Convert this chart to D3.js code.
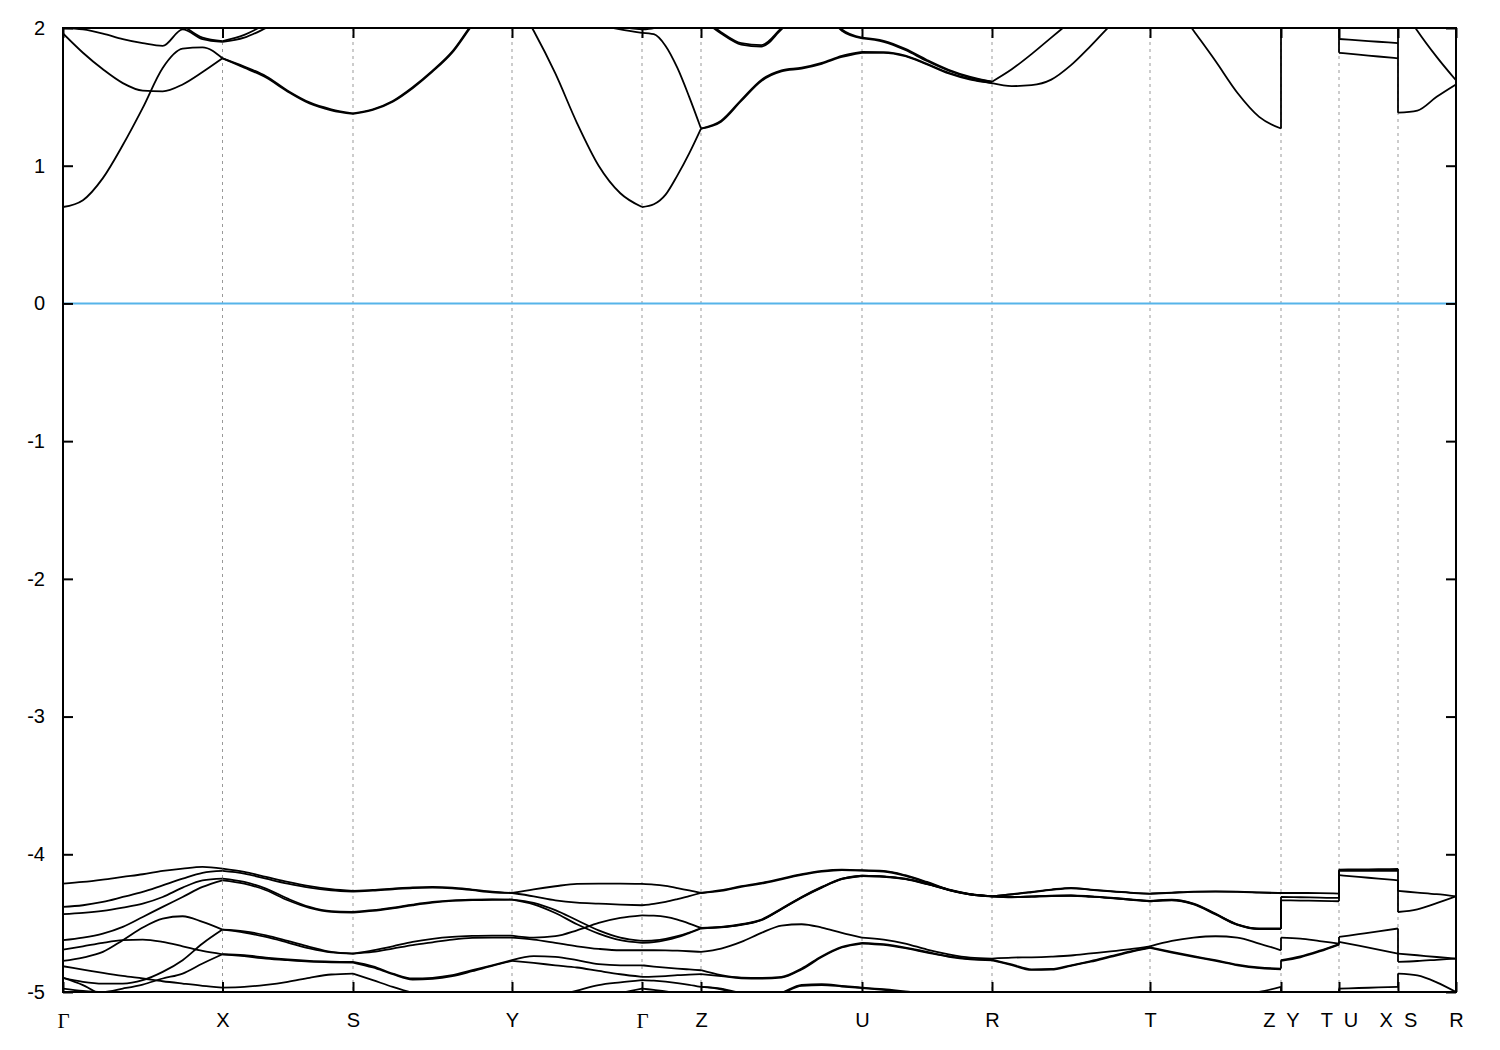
<!DOCTYPE html>
<html>
<head>
<meta charset="utf-8">
<script src="https://cdn.jsdelivr.net/npm/d3@7"></script>
<style>
  html, body { margin: 0; padding: 0; background: #fff; }
  text { white-space: pre; }
</style>
</head>
<body>
<svg id="chart" width="1500" height="1050"></svg>
<script>
// ---- high-symmetry path ----
const kLabels = ["Γ","X","S","Y","Γ","Z","U","R","T","Z  Y","T  U","X  S","R"];
const kTicks  = [0, 1.595, 2.90, 4.49, 5.79, 6.38, 7.99, 9.29, 10.87, 12.18, 12.76, 13.35, 13.93];
const yTicks  = [-5, -4, -3, -2, -1, 0, 1, 2];
const fermiLevel = 0;

// ---- band energies (eV), evenly sampled along each path segment ----
const bandsGX = [
  [0.70, 0.75, 0.91, 1.15, 1.42, 1.71, 1.85, 1.86, 1.78],
  [1.96, 1.82, 1.70, 1.60, 1.545, 1.54, 1.59, 1.68, 1.78],
  [2.00, 1.99, 1.96, 1.92, 1.89, 1.87, 1.99, 1.92, 1.90],
  [2.40, 2.35, 2.30, 2.25, 2.20, 2.12, 2.02, 1.93, 1.905],
  [-4.213, -4.201, -4.184, -4.164, -4.145, -4.121, -4.104, -4.092, -4.104],
  [-4.382, -4.370, -4.346, -4.310, -4.273, -4.225, -4.177, -4.135, -4.121],
  [-4.435, -4.426, -4.411, -4.387, -4.358, -4.310, -4.242, -4.189, -4.177],
  [-4.624, -4.605, -4.576, -4.527, -4.455, -4.382, -4.310, -4.237, -4.189],
  [-4.692, -4.668, -4.643, -4.624, -4.619, -4.636, -4.668, -4.702, -4.726],
  [-4.774, -4.750, -4.709, -4.624, -4.532, -4.467, -4.450, -4.491, -4.547],
  [-4.813, -4.837, -4.861, -4.883, -4.902, -4.922, -4.939, -4.955, -4.968],
  [-4.897, -4.926, -4.939, -4.939, -4.914, -4.854, -4.769, -4.648, -4.547],
  [-4.975, -4.992, -4.999, -4.975, -4.946, -4.902, -4.866, -4.793, -4.726],
  [-4.897, -4.950, -5.030, -5.100, -5.150, -5.200, -5.200, -5.200, -5.200]
];
const bandsXS = [
  [1.78, 1.72, 1.65, 1.545, 1.46, 1.41, 1.38],
  [1.78, 1.712, 1.64, 1.538, 1.452, 1.402, 1.376],
  [1.90, 1.93, 2.00, 2.08, 2.15, 2.20, 2.25],
  [1.905, 1.95, 2.03, 2.12, 2.20, 2.25, 2.30],
  [-4.104, -4.128, -4.164, -4.201, -4.232, -4.254, -4.266],
  [-4.121, -4.140, -4.177, -4.213, -4.242, -4.261, -4.271],
  [-4.177, -4.201, -4.249, -4.322, -4.382, -4.413, -4.418],
  [-4.189, -4.213, -4.261, -4.334, -4.389, -4.418, -4.423],
  [-4.547, -4.559, -4.588, -4.629, -4.672, -4.709, -4.721],
  [-4.547, -4.568, -4.600, -4.641, -4.684, -4.713, -4.721],
  [-4.726, -4.733, -4.750, -4.764, -4.774, -4.779, -4.781],
  [-4.726, -4.740, -4.757, -4.769, -4.779, -4.784, -4.786],
  [-4.968, -4.963, -4.948, -4.926, -4.897, -4.873, -4.866]
];
const bandsSY = [
  [1.38, 1.41, 1.47, 1.57, 1.69, 1.83, 2.03, 2.20, 2.35],
  [1.376, 1.405, 1.465, 1.563, 1.683, 1.823, 2.02, 2.19, 2.34],
  [-4.266, -4.259, -4.249, -4.240, -4.237, -4.242, -4.256, -4.271, -4.281],
  [-4.271, -4.264, -4.254, -4.245, -4.242, -4.247, -4.261, -4.276, -4.281],
  [-4.418, -4.406, -4.387, -4.365, -4.346, -4.334, -4.329, -4.327, -4.329],
  [-4.423, -4.411, -4.392, -4.370, -4.351, -4.339, -4.333, -4.330, -4.329],
  [-4.721, -4.697, -4.668, -4.636, -4.614, -4.600, -4.593, -4.590, -4.590],
  [-4.721, -4.709, -4.685, -4.660, -4.639, -4.619, -4.607, -4.605, -4.605],
  [-4.781, -4.813, -4.866, -4.902, -4.897, -4.878, -4.842, -4.806, -4.769],
  [-4.786, -4.822, -4.871, -4.910, -4.905, -4.885, -4.849, -4.810, -4.774],
  [-4.866, -4.914, -4.963, -5.006, -5.040, -5.060, -5.070, -5.070, -5.060]
];
const bandsYG = [
  [2.25, 1.98, 1.67, 1.31, 1.00, 0.80, 0.70],
  [2.30, 2.20, 2.12, 2.06, 2.02, 1.99, 1.965],
  [2.40, 2.30, 2.20, 2.12, 2.05, 2.01, 1.99],
  [-4.281, -4.254, -4.232, -4.215, -4.213, -4.213, -4.215],
  [-4.281, -4.305, -4.334, -4.351, -4.358, -4.365, -4.370],
  [-4.329, -4.353, -4.406, -4.479, -4.552, -4.605, -4.629],
  [-4.329, -4.363, -4.426, -4.508, -4.576, -4.624, -4.643],
  [-4.590, -4.605, -4.595, -4.552, -4.498, -4.462, -4.443],
  [-4.605, -4.619, -4.643, -4.668, -4.687, -4.697, -4.697],
  [-4.769, -4.740, -4.745, -4.769, -4.798, -4.806, -4.806],
  [-4.774, -4.789, -4.806, -4.822, -4.847, -4.871, -4.890],
  [-5.100, -5.070, -5.030, -4.990, -4.950, -4.930, -4.914],
  [-5.200, -5.200, -5.150, -5.100, -5.060, -5.010, -4.975]
];
const bandsGZ = [
  [0.70, 0.72, 0.79, 0.93, 1.09, 1.27],
  [1.965, 1.955, 1.87, 1.71, 1.50, 1.27],
  [1.99, 2.00, 2.04, 2.10, 2.20, 2.30],
  [-4.215, -4.220, -4.230, -4.245, -4.262, -4.281],
  [-4.370, -4.360, -4.345, -4.325, -4.303, -4.281],
  [-4.629, -4.626, -4.615, -4.595, -4.568, -4.535],
  [-4.643, -4.638, -4.624, -4.602, -4.572, -4.539],
  [-4.443, -4.446, -4.455, -4.475, -4.503, -4.535],
  [-4.697, -4.697, -4.698, -4.700, -4.704, -4.709],
  [-4.806, -4.815, -4.823, -4.830, -4.836, -4.842],
  [-4.890, -4.888, -4.884, -4.878, -4.874, -4.870],
  [-4.914, -4.918, -4.925, -4.935, -4.948, -4.963],
  [-4.975, -4.985, -4.995, -5.010, -5.030, -5.050]
];
const bandsZU = [
  [1.27, 1.32, 1.47, 1.615, 1.685, 1.705, 1.74, 1.79, 1.82],
  [1.27, 1.327, 1.478, 1.623, 1.692, 1.712, 1.747, 1.797, 1.826],
  [2.07, 1.96, 1.88, 1.865, 1.99, 2.12, 2.20, 2.25, 2.30],
  [2.08, 1.97, 1.89, 1.875, 2.00, 2.13, 2.21, 2.26, 2.31],
  [2.60, 2.50, 2.40, 2.35, 2.30, 2.25, 2.15, 1.98, 1.925],
  [2.60, 2.50, 2.40, 2.35, 2.30, 2.26, 2.16, 1.99, 1.93],
  [-4.281, -4.261, -4.232, -4.208, -4.177, -4.145, -4.121, -4.111, -4.116],
  [-4.281, -4.266, -4.237, -4.213, -4.182, -4.150, -4.126, -4.114, -4.118],
  [-4.535, -4.527, -4.508, -4.474, -4.394, -4.310, -4.237, -4.177, -4.155],
  [-4.539, -4.531, -4.513, -4.479, -4.399, -4.315, -4.242, -4.181, -4.158],
  [-4.535, -4.529, -4.511, -4.477, -4.397, -4.312, -4.240, -4.179, -4.156],
  [-4.709, -4.685, -4.636, -4.571, -4.518, -4.508, -4.532, -4.571, -4.605],
  [-4.842, -4.878, -4.895, -4.897, -4.890, -4.830, -4.740, -4.672, -4.643],
  [-4.870, -4.885, -4.900, -4.902, -4.895, -4.836, -4.746, -4.677, -4.648],
  [-4.963, -4.975, -5.011, -5.047, -5.006, -4.948, -4.943, -4.955, -4.968],
  [-4.963, -4.980, -5.020, -5.050, -5.010, -4.955, -4.950, -4.960, -4.972]
];
const bandsUR = [
  [1.82, 1.82, 1.795, 1.735, 1.67, 1.625, 1.60],
  [1.826, 1.825, 1.80, 1.74, 1.675, 1.63, 1.60],
  [1.925, 1.90, 1.84, 1.76, 1.69, 1.64, 1.61],
  [1.93, 1.907, 1.848, 1.768, 1.697, 1.645, 1.61],
  [-4.116, -4.121, -4.152, -4.201, -4.256, -4.290, -4.305],
  [-4.118, -4.125, -4.157, -4.206, -4.260, -4.292, -4.305],
  [-4.155, -4.160, -4.177, -4.213, -4.256, -4.290, -4.305],
  [-4.158, -4.163, -4.181, -4.217, -4.259, -4.292, -4.305],
  [-4.156, -4.162, -4.179, -4.215, -4.258, -4.291, -4.305],
  [-4.605, -4.619, -4.648, -4.692, -4.726, -4.750, -4.757],
  [-4.643, -4.653, -4.677, -4.709, -4.740, -4.760, -4.765],
  [-4.648, -4.658, -4.682, -4.714, -4.744, -4.763, -4.770],
  [-4.968, -4.980, -4.995, -5.010, -5.020, -5.010, -5.000],
  [-4.972, -4.985, -5.000, -5.015, -5.025, -5.015, -5.005]
];
const bandsRT = [
  [1.61, 1.70, 1.81, 1.93, 2.05, 2.17, 2.30, 2.40, 2.50],
  [1.60, 1.578, 1.585, 1.625, 1.73, 1.87, 2.02, 2.15, 2.30],
  [-4.305, -4.290, -4.273, -4.256, -4.244, -4.256, -4.268, -4.278, -4.285],
  [-4.305, -4.292, -4.276, -4.259, -4.247, -4.258, -4.270, -4.280, -4.287],
  [-4.305, -4.310, -4.305, -4.300, -4.298, -4.305, -4.315, -4.327, -4.339],
  [-4.305, -4.312, -4.308, -4.303, -4.301, -4.308, -4.318, -4.330, -4.342],
  [-4.305, -4.311, -4.307, -4.302, -4.300, -4.307, -4.317, -4.329, -4.341],
  [-4.757, -4.750, -4.748, -4.743, -4.735, -4.720, -4.705, -4.688, -4.668],
  [-4.765, -4.800, -4.835, -4.833, -4.806, -4.775, -4.740, -4.705, -4.675],
  [-4.770, -4.805, -4.840, -4.838, -4.810, -4.780, -4.745, -4.710, -4.680],
  [-5.000, -5.000, -5.010, -5.030, -5.040, -5.050, -5.050, -5.050, -5.050]
];
const bandsTZ = [
  [2.40, 2.20, 1.98, 1.76, 1.53, 1.355, 1.27],
  [-4.285, -4.278, -4.271, -4.269, -4.271, -4.276, -4.281],
  [-4.287, -4.280, -4.273, -4.271, -4.273, -4.278, -4.283],
  [-4.339, -4.329, -4.358, -4.431, -4.508, -4.539, -4.539],
  [-4.342, -4.334, -4.364, -4.437, -4.513, -4.543, -4.543],
  [-4.341, -4.332, -4.361, -4.434, -4.511, -4.541, -4.541],
  [-4.668, -4.629, -4.605, -4.595, -4.605, -4.648, -4.697],
  [-4.675, -4.709, -4.740, -4.769, -4.801, -4.822, -4.830],
  [-4.680, -4.714, -4.745, -4.774, -4.806, -4.827, -4.835],
  [-5.050, -5.050, -5.050, -5.040, -5.020, -5.000, -4.963]
];
const bandsYT = [
  [-4.281, -4.281, -4.282, -4.285],
  [-4.310, -4.312, -4.315, -4.317],
  [-4.334, -4.336, -4.338, -4.341],
  [-4.605, -4.612, -4.630, -4.648],
  [-4.769, -4.742, -4.700, -4.652],
  [-4.774, -4.748, -4.706, -4.656]
];
const bandsUX = [
  [1.92, 1.91, 1.90, 1.89],
  [1.82, 1.807, 1.793, 1.78],
  [-4.111, -4.110, -4.108, -4.107],
  [-4.120, -4.120, -4.120, -4.120],
  [-4.152, -4.164, -4.177, -4.189],
  [-4.600, -4.580, -4.560, -4.539],
  [-4.636, -4.664, -4.693, -4.721],
  [-4.975, -4.971, -4.967, -4.963]
];
const bandsSR = [
  [1.385, 1.40, 1.50, 1.59],
  [2.20, 1.98, 1.79, 1.62],
  [-4.266, -4.278, -4.290, -4.305],
  [-4.419, -4.400, -4.355, -4.305],
  [-4.721, -4.733, -4.746, -4.757],
  [-4.781, -4.775, -4.766, -4.757],
  [-4.866, -4.880, -4.930, -5.000]
];
// vertical connectors at path discontinuities: [tick index, E from, E to]
const jumps = [
  [9, 1.27, 2.2], [9, -4.539, -4.310], [9, -4.543, -4.334], [9, -4.697, -4.605],
  [9, -4.830, -4.769], [9, -4.963, -5.1],
  [10, 2.2, 1.82], [10, -4.285, -4.111], [10, -4.317, -4.120], [10, -4.341, -4.152],
  [10, -4.648, -4.600], [10, -4.656, -4.636], [10, -5.1, -4.975],
  [11, 2.2, 1.385], [11, -4.107, -4.266], [11, -4.189, -4.419], [11, -4.539, -4.781],
  [11, -4.963, -4.866]
];

const segments = [bandsGX, bandsXS, bandsSY, bandsYG, bandsGZ, bandsZU,
                  bandsUR, bandsRT, bandsTZ, bandsYT, bandsUX, bandsSR];

// ---- drawing ----
const W = 1500, H = 1050;
const m = {left: 63, right: 44, top: 28, bottom: 58};
const svg = d3.select("#chart");
svg.append("rect").attr("width", W).attr("height", H).attr("fill", "#fff");

const x = d3.scaleLinear().domain([kTicks[0], kTicks[kTicks.length - 1]]).range([m.left, W - m.right]);
const y = d3.scaleLinear().domain([-5, 2]).range([H - m.bottom, m.top]);

svg.append("defs").append("clipPath").attr("id", "plotclip")
  .append("rect").attr("x", x.range()[0]).attr("y", y.range()[1])
  .attr("width", x.range()[1] - x.range()[0]).attr("height", y.range()[0] - y.range()[1]);

// dashed vertical lines at interior high-symmetry points
svg.append("g").selectAll("line").data(kTicks.slice(1, -1)).join("line")
  .attr("x1", d => x(d)).attr("x2", d => x(d))
  .attr("y1", y.range()[1]).attr("y2", y.range()[0])
  .attr("stroke", "#999").attr("stroke-width", 1).attr("stroke-dasharray", "3,4");

// Fermi level
svg.append("line")
  .attr("x1", x.range()[0]).attr("x2", x.range()[1])
  .attr("y1", y(fermiLevel)).attr("y2", y(fermiLevel))
  .attr("stroke", "#56b4e9").attr("stroke-width", 2);

const gBands = svg.append("g").attr("clip-path", "url(#plotclip)");
const line = d3.line().x(d => x(d[0])).y(d => y(d[1])).curve(d3.curveMonotoneX);

segments.forEach((seg, i) => {
  const k0 = kTicks[i], k1 = kTicks[i + 1];
  seg.forEach(vals => {
    const n = vals.length;
    const pts = vals.map((e, j) => [k0 + (k1 - k0) * j / (n - 1), e]);
    gBands.append("path").attr("d", line(pts))
      .attr("fill", "none").attr("stroke", "#000").attr("stroke-width", 1.8)
      .attr("stroke-linejoin", "round");
  });
});
gBands.selectAll("line.jump").data(jumps).join("line").attr("class", "jump")
  .attr("x1", d => x(kTicks[d[0]])).attr("x2", d => x(kTicks[d[0]]))
  .attr("y1", d => y(d[1])).attr("y2", d => y(d[2]))
  .attr("stroke", "#000").attr("stroke-width", 1.8);

// frame
svg.append("rect")
  .attr("x", x.range()[0]).attr("y", y.range()[1])
  .attr("width", x.range()[1] - x.range()[0]).attr("height", y.range()[0] - y.range()[1])
  .attr("fill", "none").attr("stroke", "#000").attr("stroke-width", 2);

// y ticks (inward, both sides)
const tickLen = 10;
const yAxisL = d3.axisLeft(y).tickValues(yTicks).tickSizeInner(-tickLen).tickSizeOuter(0).tickPadding(18)
  .tickFormat(d => String(d));
const gl = svg.append("g").attr("transform", `translate(${x.range()[0]},0)`).call(yAxisL);
const yAxisR = d3.axisRight(y).tickValues(yTicks).tickSizeInner(-tickLen).tickSizeOuter(0).tickFormat("");
const gr = svg.append("g").attr("transform", `translate(${x.range()[1]},0)`).call(yAxisR);
[gl, gr].forEach(g => {
  g.select(".domain").remove();
  g.selectAll(".tick line").attr("stroke", "#000").attr("stroke-width", 2);
});
gl.selectAll(".tick text").attr("font-family", "'Liberation Sans', Arial, sans-serif")
  .attr("font-size", 20).attr("fill", "#000");

// x ticks (inward, top & bottom)
const xAxisB = d3.axisBottom(x).tickValues(kTicks).tickSizeInner(-tickLen).tickSizeOuter(0).tickPadding(21)
  .tickFormat((d, i) => kLabels[i]);
const gb = svg.append("g").attr("transform", `translate(0,${y.range()[0]})`).call(xAxisB);
const xAxisT = d3.axisTop(x).tickValues(kTicks).tickSizeInner(-tickLen).tickSizeOuter(0).tickFormat("");
const gt = svg.append("g").attr("transform", `translate(0,${y.range()[1]})`).call(xAxisT);
[gb, gt].forEach(g => {
  g.select(".domain").remove();
  g.selectAll(".tick line").attr("stroke", "#000").attr("stroke-width", 2);
});
gb.selectAll(".tick text")
  .attr("font-family", "'Liberation Sans', Arial, sans-serif")
  .attr("font-size", 20).attr("fill", "#000")
  .each(function(d, i) {
    if (kLabels[i] === "Γ") d3.select(this).attr("font-family", "'Liberation Serif', 'Times New Roman', serif").attr("font-size", 21);
  });
</script>
</body>
</html>
